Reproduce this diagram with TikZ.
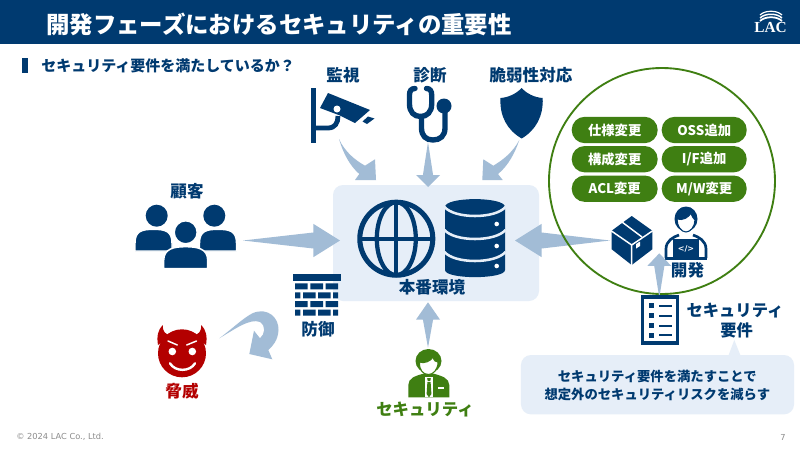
\documentclass[tikz,border=0pt]{standalone}
\usepackage{fontspec}
\setmainfont{Noto Sans CJK JP}
\newfontfamily\footfont{DejaVu Sans}
\newfontfamily\logofont{Liberation Serif}
\usetikzlibrary{calc}
\definecolor{navy}{HTML}{003A70}
\definecolor{arrowblue}{HTML}{A2BCD6}
\definecolor{paleblue}{HTML}{E6EEF8}
\definecolor{leaf}{HTML}{3F7F12}
\definecolor{devil}{HTML}{B30000}
\definecolor{footgrey}{HTML}{8C8C8C}
\tikzset{
  lbl/.style={inner sep=0pt,text=navy,font=\fontsize{12.4}{14}\selectfont\bfseries},
  pill/.style={fill=leaf,rounded corners=9.8pt,text=white,inner sep=0pt,minimum height=19.8pt,font=\fontsize{10}{12}\selectfont\bfseries},
  pilla/.style={pill,minimum width=64.5pt},
  pillb/.style={pill,minimum width=63.8pt},
  arrowf/.style={fill=arrowblue},
  whiteline/.style={draw=white,line width=1.8pt,line cap=round},
}
\newcommand\taper[5]{%
  \coordinate (h) at ($(#2)!#3pt!(#1)$);
  \fill[arrowf] (#1) -- ($(h)!#5pt!90:(#2)$) -- ($(h)!#4pt!90:(#2)$) -- (#2)
     -- ($(h)!#4pt!-90:(#2)$) -- ($(h)!#5pt!-90:(#2)$) -- cycle;}
\newcommand\bodyshape[5]{% colour, centre x, half width, top, bottom
  \filldraw[fill=#1,draw=white,line width=1.1pt] ({#2-#3},#5) -- ({#2-#3},{#5-8})
    .. controls ({#2-#3},{#4+2}) and ({#2-12},#4) .. (#2,#4)
    .. controls ({#2+12},#4) and ({#2+#3},{#4+2}) .. ({#2+#3},{#5-8})
    -- ({#2+#3},#5) -- cycle;}
\begin{document}
\begin{tikzpicture}[x=0.75pt,y=-0.75pt]
\useasboundingbox (0,0) rectangle (800,450);
\fill[white] (0,0) rectangle (800,450);
% header
\fill[navy] (0,0) rectangle (800,44);
\node[anchor=west,inner sep=0pt,text=white,font=\fontsize{17.55}{20}\selectfont\bfseries] (title) at (46,24) {開発フェーズにおけるセキュリティの重要性};
\node[inner sep=0pt,text=white,font=\logofont\bfseries\fontsize{11.5}{14}\selectfont] (logo) at (770.5,27) {LAC};
\foreach \t/\w in {11/.9,14/1.1,17/1.3}
  \draw[white,line width=\w pt] (760,{\t+4}) .. controls (765,{\t-1}) and (777,{\t-1}) .. (782,{\t+4});
% subtitle
\fill[navy] (22,58) rectangle (27.5,73);
\node[anchor=west,inner sep=0pt,text=navy,font=\fontsize{11.25}{13}\selectfont\bfseries] (sub) at (41,66) {セキュリティ要件を満たしているか？};
% labels
\node[lbl] (lmon) at (343,75) {監視};
\node[lbl] (ldiag) at (430,75) {診断};
\node[lbl] (lvuln) at (531,75) {脆弱性対応};
\node[lbl] (lcust) at (187,191) {顧客};
\node[lbl] (lguard) at (318,329) {防御};
\node[lbl,text=devil] (lthreat) at (182,391) {脅威};
% production box
\node[fill=paleblue,rounded corners=7.5pt,minimum width=154.5pt,minimum height=87pt,inner sep=0pt] (prod) at (436,243) {};
% camera
\fill[navy] (311,88) rectangle (316,143);
\draw[navy,line width=3.6pt] (316,128) -- (328,128) .. controls (335,128) and (338,123) .. (338,116);
\fill[navy] (328,93) -- (370,110) -- (355,123) -- (340,115.5) -- (320,108) -- cycle;
\fill[navy] (368,116.5) -- (374.5,118.5) -- (367,124) -- (362.5,121.5) -- cycle;
\fill[white] (337,109) circle (3.5);
% stethoscope
\draw[navy,line width=4pt,line cap=round] (415,88.5) .. controls (411,88.5) and (409.5,91) .. (409.5,95) -- (409.5,104)
   .. controls (409.5,112) and (414,116.5) .. (420.5,116.5) .. controls (427,116.5) and (431.7,112) .. (431.7,104) -- (431.7,95) .. controls (431.7,91) and (430,88.5) .. (426.5,88.5);
\draw[navy,line width=4pt] (421.5,116) -- (421.5,128) .. controls (421.5,136) and (426,140) .. (433,140) .. controls (440,140) and (445,136) .. (445,128) -- (445,108);
\fill[navy] (444,106) circle (7.5);
% shield
\fill[navy] (521.7,88) .. controls (527,94) and (535,97.5) .. (542.7,98) .. controls (543.5,116) and (536,130) .. (521.7,138.5)
   .. controls (507,130) and (499.5,116) .. (500.5,98) .. controls (508,97.5) and (516,94) .. cycle;
% curved arrows from the top
\fill[arrowf] (339,139) .. controls (345,152) and (355,160) .. (365,165.7) -- (375,159.3) -- (376,180) -- (355,180) -- (359.3,174) .. controls (350,166) and (343,153) .. cycle;
\fill[arrowf] (519.3,140) .. controls (513,152) and (503,160) .. (493.3,165.7) -- (483.3,159.3) -- (482.3,180) -- (502.7,180) -- (498,174) .. controls (508,166) and (515,153) .. cycle;
\coordinate (diagtail) at (428,142); \coordinate (diagtip) at (428,187);
\taper{diagtail}{diagtip}{9}{9}{3.8}
% globe
\draw[navy,line width=3.8pt] (396.3,238.7) circle (36.5);
\draw[navy,line width=3.2pt] (396.3,238.7) ellipse (19.5 and 36.5);
\draw[navy,line width=3.2pt] (396.3,202) -- (396.3,275) (360,238.7) -- (433,238.7);
% database
\fill[navy] (445,207) .. controls (445,196.5) and (505,196.5) .. (505,207) -- (505,270) .. controls (505,279.5) and (445,279.5) .. (445,270) -- cycle;
\foreach \s in {207,230,252}
  \draw[paleblue,line width=1.9pt] (444.5,\s) .. controls (455,{\s+12}) and (495,{\s+12}) .. (505.5,\s);
\foreach \s in {224,246,266} \fill[white] (496.7,\s) circle (2.3);
\node[lbl] (lprod) at (432,287) {本番環境};
% people
\fill[navy] (156.7,215.7) circle (11);
\fill[navy] (214.3,215.7) circle (11);
\bodyshape{navy}{153.5}{18.5}{229.3}{251}
\bodyshape{navy}{218}{18.5}{229.3}{251}
\filldraw[fill=navy,draw=white,line width=1.1pt] (185.7,232.3) circle (11.5);
\bodyshape{navy}{185.7}{22}{246.7}{268.5}
% customer & dev arrows
\coordinate (custtail) at (243,240.5); \coordinate (custtip) at (340,240.5);
\taper{custtail}{custtip}{20}{12.5}{6}
\coordinate (devtail) at (610,240.5); \coordinate (devtip) at (515,240.5);
\taper{devtail}{devtip}{20}{12.5}{6}
% wall
\fill[navy] (292.7,274.3) rectangle (340.7,281);
\foreach \y in {283.3,301}{
  \fill[navy] (295,\y) rectangle (307.7,{\y+6}) (310.3,\y) rectangle (323,{\y+6}) (325.7,\y) rectangle (338,{\y+6});}
\foreach \y in {292.3,309.7}{
  \fill[navy] (295,\y) rectangle (300.3,{\y+6}) (303,\y) rectangle (315.7,{\y+6}) (318,\y) rectangle (330.7,{\y+6}) (333,\y) rectangle (338,{\y+6});}
% devil
\fill[devil] (182,353.3) circle (24);
\fill[devil] (158,345) .. controls (156.5,336) and (158,330) .. (162.7,325) .. controls (162.5,331) and (165,335) .. (171,335) -- cycle;
\fill[devil] (206,345) .. controls (207.5,336) and (206,330) .. (201.3,325) .. controls (201.5,331) and (199,335) .. (193,335) -- cycle;
\fill[white] (172.3,351.5) circle (3.8) (192.3,351.5) circle (3.8);
\draw[whiteline,line width=1.1pt] (168,341) -- (177.3,345) (196.5,341) -- (186.7,345);
\draw[whiteline] (170,363.3) .. controls (175,372) and (190,372) .. (195,363.3);
% deflected arrow
\fill[arrowf] (219.3,338.3) .. controls (232,329) and (243,318) .. (253,313) .. controls (268,307) and (279,318) .. (278.5,330)
   .. controls (278,340) and (273,346) .. (268.3,350) -- (272.3,359.3) -- (249.3,354) -- (254,330.7) -- (260,338.3)
   .. controls (265,334) and (266,326) .. (260,322) .. controls (250,318) and (235,329) .. cycle;
% security
\coordinate (sectail) at (428,347.7); \coordinate (sectip) at (428,302.3);
\taper{sectail}{sectip}{13}{9}{3.8}
\fill[leaf] (408.3,397.3) -- (408.3,385) .. controls (408.5,378) and (415,376) .. (424,373.5) -- (433,373.5) .. controls (442,376) and (449,378) .. (449.3,385) -- (449.3,397.3) -- cycle;
\fill[leaf] (428.5,361) ellipse (13 and 12);
\filldraw[fill=white,draw=leaf,line width=.8pt] (419.5,362) .. controls (424,364) and (431,361) .. (433,357) .. controls (434,361) and (436,362) .. (438,362) .. controls (438,370) and (433,374.5) .. (428.5,374.5) .. controls (423,374.5) and (419,370) .. cycle;
\fill[white] (425,377) -- (433,377) -- (433,397.3) -- (425,397.3) -- cycle;
\fill[leaf] (427.2,378) -- (430.8,378) -- (430.3,381) -- (427.7,381) -- cycle;
\fill[leaf] (427.4,382) -- (430.6,382) -- (431.4,394) -- (429,397.3) -- (426.6,394) -- cycle;
\fill[white] (438,387) rectangle (443.5,389);
\node[inner sep=0pt,text=leaf,font=\fontsize{12.3}{14}\selectfont\bfseries] (lsec) at (425,410) {セキュリティ};
% dev circle
\node[draw=leaf,line width=1.4pt,circle,minimum size=169.5pt,inner sep=0pt] (devcircle) at (662,181) {};
\node[pilla] (p1) at (614.7,130) {仕様変更};
\node[pillb] (p2) at (704.2,130) {OSS追加};
\node[pilla] (p3) at (614.7,159.2) {構成変更};
\node[pillb] (p4) at (704.2,159.2) {I/F追加};
\node[pilla] (p5) at (614.7,188.7) {ACL変更};
\node[pillb] (p6) at (704.2,188.7) {M/W変更};
% box icon
\fill[navy] (631.7,216) -- (652.3,230.7) -- (652.3,249.3) -- (631.7,265) -- (611.7,249.3) -- (611.7,230.7) -- cycle;
\draw[white,line width=1.1pt] (611,230.7) -- (631.7,245) -- (652.8,230.7) (631.7,245) -- (631.7,266);
\draw[white,line width=1.1pt] (622,222) -- (642,237);
\fill[white] (636.2,244) -- (640,241.5) -- (640,246) -- (636.2,248.5) -- cycle;
% dev person
\draw[navy,line width=2pt] (666,258) -- (666,249) .. controls (666,241) and (673,237) .. (679,235) (693,235) .. controls (699,237) and (706,241) .. (706,249) -- (706,258);
\fill[navy] (686,219) ellipse (11.5 and 12.5);
\filldraw[fill=white,draw=navy,line width=.8pt] (677,219) .. controls (683,221) and (689,217) .. (691,213) .. controls (692,217) and (694,219) .. (695,220) .. controls (695,227) and (690,232) .. (686,232) .. controls (681,232) and (677,226) .. cycle;
\fill[navy] (672.7,239.3) rectangle (699.3,258);
\fill[navy] (665,257) rectangle (706.7,260);
\node[inner sep=0pt,text=white,font=\footfont\bfseries\fontsize{6}{6}\selectfont] (code) at (686,248.5) {</>};
\node[lbl] (ldev) at (687.5,270) {開発};
% requirement arrow
\coordinate (reqtail) at (659.3,297.7); \coordinate (reqtip) at (659.3,253.3);
\taper{reqtail}{reqtip}{9.5}{9}{3.8}
% checklist
\draw[navy,line width=2.6pt] (642.7,296.8) rectangle (677.5,343.2);
\foreach \y in {305.7,315.7,325.7,335}{
  \fill[navy] (649,{\y-2.5}) rectangle (654.3,{\y+2.5});
  \draw[navy,line width=1.5pt] (659.3,\y) -- (671.7,\y);}
\node[lbl,font=\fontsize{12.2}{14}\selectfont\bfseries] (lreq1) at (735,311) {セキュリティ};
\node[lbl,font=\fontsize{12.2}{14}\selectfont\bfseries] (lreq2) at (736.7,330) {要件};
% callout
\fill[paleblue] (734.3,340) -- (728.3,356) -- (740.7,356) -- cycle;
\node[fill=paleblue,rounded corners=7.5pt,minimum width=204.8pt,minimum height=44.5pt,inner sep=0pt] (callout) at (657.5,384.7) {};
\node[inner sep=0pt,text=navy,font=\fontsize{10}{12}\selectfont\bfseries] (c1) at (657.3,376.7) {セキュリティ要件を満たすことで};
\node[inner sep=0pt,text=navy,font=\fontsize{10}{12}\selectfont\bfseries] (c2) at (657.3,394.3) {想定外のセキュリティリスクを減らす};
% footer
\node[anchor=west,inner sep=0pt,text=footgrey,font=\footfont\fontsize{6.2}{7}\selectfont] (copy) at (16,437) {© 2024 LAC Co., Ltd.};
\node[inner sep=0pt,text=footgrey,font=\footfont\fontsize{6.2}{7}\selectfont] (pg) at (783,437) {7};
\end{tikzpicture}
\end{document}
